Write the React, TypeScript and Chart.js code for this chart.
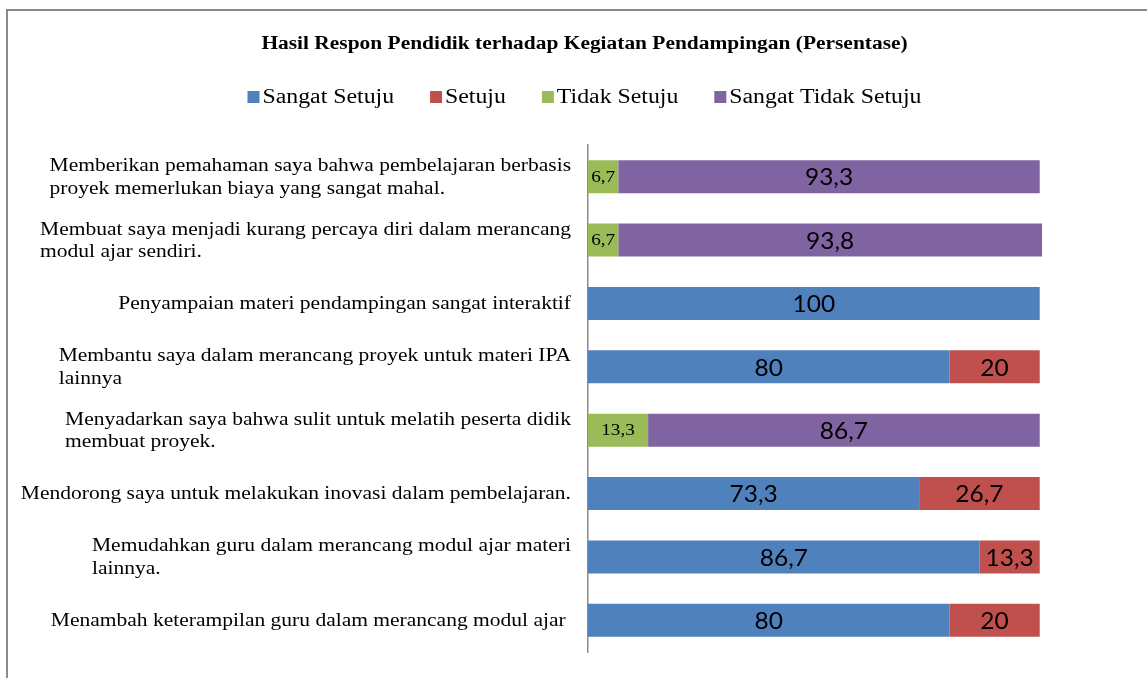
import React, { useEffect, useRef } from "react";
import { Chart, registerables } from "chart.js";

Chart.register(...registerables);

const titleText = "Hasil Respon Pendidik terhadap Kegiatan Pendampingan (Persentase)";

const categories: string[][] = [
  ["Memberikan pemahaman saya bahwa pembelajaran berbasis", "proyek memerlukan biaya yang sangat mahal."],
  ["Membuat saya menjadi kurang percaya diri dalam merancang", "modul ajar sendiri."],
  ["Penyampaian materi pendampingan sangat interaktif"],
  ["Membantu saya dalam merancang proyek untuk materi IPA", "lainnya"],
  ["Menyadarkan saya bahwa sulit untuk melatih peserta didik", "membuat proyek."],
  ["Mendorong saya untuk melakukan inovasi dalam pembelajaran."],
  ["Memudahkan guru dalam merancang modul ajar materi", "lainnya."],
  ["Menambah keterampilan guru dalam merancang modul ajar "],
];

const seriesNames = ["Sangat Setuju", "Setuju", "Tidak Setuju", "Sangat Tidak Setuju"];
const seriesColors = ["#4F81BD", "#C0504D", "#9BBB59", "#8064A2"];

const sangatSetuju = [0, 0, 100, 80, 0, 73.3, 86.7, 80];
const setuju = [0, 0, 0, 20, 0, 26.7, 13.3, 20];
const tidakSetuju = [6.7, 6.7, 0, 0, 13.3, 0, 0, 0];
const sangatTidakSetuju = [93.3, 93.8, 0, 0, 86.7, 0, 0, 0];

const SERIF = "'Liberation Serif', 'Times New Roman', serif";
const SANS = "Lato, 'Open Sans', sans-serif";

function drawText(ctx: any, text: string, x: number, y: number, align: string, sx: number) {
  ctx.save();
  ctx.translate(x, y);
  ctx.scale(sx, 1);
  ctx.textAlign = align;
  ctx.fillText(text, 0, 0);
  ctx.restore();
}

const decorPlugin = {
  id: "decor",
  beforeDraw(chart: any) {
    const ctx = chart.ctx;
    ctx.save();
    ctx.fillStyle = "#ffffff";
    ctx.fillRect(0, 0, chart.width, chart.height);
    ctx.strokeStyle = "#8a8a8a";
    ctx.lineWidth = 2;
    ctx.strokeRect(7, 10, 1300, 1000);
    ctx.restore();
  },
  afterDraw(chart: any) {
    const ctx = chart.ctx;
    ctx.save();
    ctx.fillStyle = "#000";
    ctx.textBaseline = "middle";

    // title
    ctx.font = `bold 18px ${SERIF}`;
    drawText(ctx, titleText, 584.5, 44, "center", 1.19);

    // legend
    ctx.font = `20px ${SERIF}`;
    const lsx = 1.19;
    const box = 12;
    const gapText = 3;
    const gapItems = 36;
    const widths = seriesNames.map((n) => box + gapText + ctx.measureText(n).width * lsx);
    const total = widths.reduce((a, b) => a + b, 0) + gapItems * (seriesNames.length - 1);
    let x = 584.5 - total / 2;
    const ly = 97;
    seriesNames.forEach((n, i) => {
      ctx.fillStyle = seriesColors[i];
      ctx.fillRect(x, ly - box / 2, box, box);
      ctx.fillStyle = "#000";
      drawText(ctx, n, x + box + gapText, ly + 1, "left", lsx);
      x += widths[i] + gapItems;
    });

    // category labels
    const yScale = chart.scales.y;
    ctx.font = `18px ${SERIF}`;
    const csx = 1.195;
    const right = 571;
    const lh = 22.5;
    categories.forEach((lines, i) => {
      const cy = yScale.getPixelForValue(i) + 1;
      const maxW = Math.max(...lines.map((l) => ctx.measureText(l).width)) * csx;
      const left = right - maxW;
      lines.forEach((l, j) => {
        const yy = cy + (j - (lines.length - 1) / 2) * lh;
        drawText(ctx, l, left, yy, "left", csx);
      });
    });

    // data labels
    chart.data.datasets.forEach((ds: any, di: number) => {
      const meta = chart.getDatasetMeta(di);
      meta.data.forEach((el: any, idx: number) => {
        const v = ds.data[idx];
        if (!v) return;
        const cx = (el.x + el.base) / 2;
        ctx.fillStyle = "#000";
        if (di === 2) {
          ctx.font = `16px ${SERIF}`;
          drawText(ctx, String(v).replace(".", ","), cx, el.y + 1, "center", 1.2);
        } else {
          ctx.font = `24px ${SANS}`;
          drawText(ctx, String(v).replace(".", ","), cx, el.y + 1, "center", 1.02);
        }
      });
    });
    ctx.restore();
  },
};

export default function App() {
  const ref = useRef<HTMLCanvasElement | null>(null);
  useEffect(() => {
    if (!ref.current) return;
    const seriesData = [sangatSetuju, setuju, tidakSetuju, sangatTidakSetuju];
    const chart = new Chart(ref.current, {
      type: "bar",
      data: {
        labels: categories.map((c) => c.join(" ")),
        datasets: seriesNames.map((name, i) => ({
          label: name,
          data: seriesData[i],
          backgroundColor: seriesColors[i],
          borderWidth: 0,
          categoryPercentage: 1,
          barPercentage: 0.52,
        })),
      },
      options: {
        indexAxis: "y",
        responsive: false,
        animation: false,
        devicePixelRatio: 1,
        layout: { padding: { left: 588, right: 105, top: 145, bottom: 26 } },
        plugins: {
          legend: { display: false },
          title: { display: false },
          tooltip: { enabled: false },
        },
        scales: {
          x: { stacked: true, min: 0, max: 100.5, display: false },
          y: {
            stacked: true,
            grid: { display: false },
            border: { display: true, color: "#8c8c8c", width: 1.5 },
            ticks: { display: false },
            afterFit: (s: any) => {
              s.width = 0;
            },
          },
        },
      },
      plugins: [decorPlugin],
    });
    return () => chart.destroy();
  }, []);
  return (
    <div style={{ position: "absolute", left: 0, top: 0, width: 1147, height: 678 }}>
      <canvas ref={ref} width={1147} height={678} style={{ width: 1147, height: 678 }} />
    </div>
  );
}
